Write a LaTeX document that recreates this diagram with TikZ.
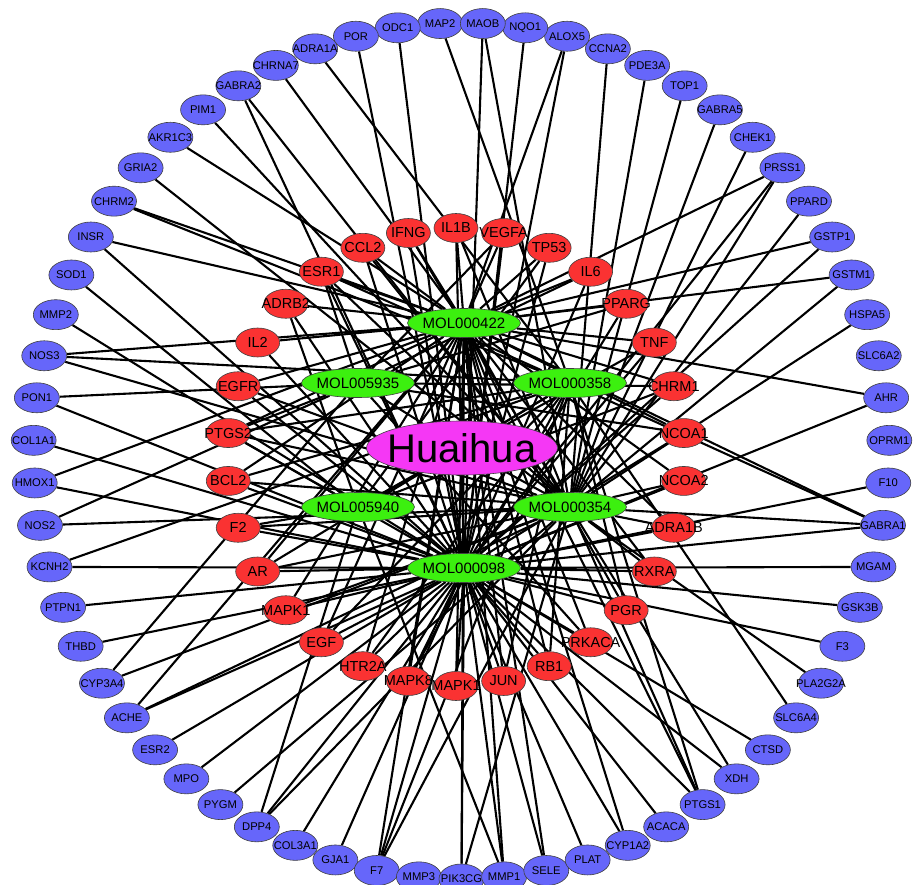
\documentclass[tikz,border=0pt]{standalone}
\usepackage{fontspec}
\setmainfont{Liberation Sans}
\usetikzlibrary{shapes.geometric,backgrounds,calc}
\definecolor{bluen}{RGB}{102,102,250}
\definecolor{redn}{RGB}{250,50,50}
\definecolor{greenn}{RGB}{60,240,15}
\definecolor{magn}{RGB}{245,55,245}
\begin{document}
\begin{tikzpicture}[x=1pt,y=-1pt,
  base/.style={ellipse,draw=black!75,line width=0.6pt,inner sep=0pt,text=black},
  bnode/.style={base,fill=bluen,minimum width=45pt,minimum height=30pt,font=\fontsize{11.2}{13}\selectfont},
  rnode/.style={base,fill=redn,minimum width=44pt,minimum height=29pt,font=\fontsize{14.5}{16}\selectfont},
  gnode/.style={base,fill=greenn,minimum width=113pt,minimum height=29pt,font=\fontsize{15}{17}\selectfont},
  hnode/.style={base,fill=magn,minimum width=191pt,minimum height=54pt,font=\fontsize{40}{44}\selectfont},
  link/.style={line width=2.1pt,black}]
\useasboundingbox (0,0) rectangle (914,885);
% outer ring
\foreach \n [count=\i from 0] in {MAP2,ODC1,POR,ADRA1A,CHRNA7,GABRA2,PIM1,AKR1C3,GRIA2,CHRM2,INSR,SOD1,MMP2,NOS3,PON1,COL1A1,HMOX1,NOS2,KCNH2,PTPN1,THBD,CYP3A4,ACHE,ESR2,MPO,PYGM,DPP4,COL3A1,GJA1,F7,MMP3,PIK3CG,MMP1,SELE,PLAT,CYP1A2,ACACA,PTGS1,XDH,CTSD,SLC6A4,PLA2G2A,F3,GSK3B,MGAM,GABRA1,F10,OPRM1,AHR,SLC6A2,HSPA5,GSTM1,GSTP1,PPARD,PRSS1,CHEK1,GABRA5,TOP1,PDE3A,CCNA2,ALOX5,NQO1,MAOB}{
  \pgfmathsetmacro\ang{-(92.857+\i*5.7143)}
  \node[bnode] (\n) at ($(461.5,451)+(\ang:428)$) {\makebox[0pt]{\n}};
}
% inner ring
\foreach \n/\l [count=\i from 0] in {IL1B/IL1B,IFNG/IFNG,CCL2/CCL2,ESR1/ESR1,ADRB2/ADRB2,IL2/IL2,EGFR/EGFR,PTGS2/PTGS2,BCL2/BCL2,F2/F2,AR/AR,MAPKa/MAPK1,EGF/EGF,HTR2A/HTR2A,MAPK8/MAPK8,MAPKb/MAPK1,JUN/JUN,RB1/RB1,PRKACA/PRKACA,PGR/PGR,RXRA/RXRA,ADRA1B/ADRA1B,NCOA2/NCOA2,NCOA1/NCOA1,CHRM1/CHRM1,TNF/TNF,PPARG/PPARG,IL6/IL6,TP53/TP53,VEGFA/VEGFA}{
  \pgfmathsetmacro\ang{-(90+\i*12)}
  \node[rnode] (\n) at ($(456,457)+(\ang:229)$) {\makebox[0pt]{\l}};
}
% compounds
\node[gnode] (m422) at (464,323) {\makebox[0pt]{MOL000422}};
\node[gnode] (m5935) at (358,383) {\makebox[0pt]{MOL005935}};
\node[gnode] (m358) at (570,383) {\makebox[0pt]{MOL000358}};
\node[gnode] (m5940) at (358,507) {\makebox[0pt]{MOL005940}};
\node[gnode] (m354) at (570,507) {\makebox[0pt]{MOL000354}};
\node[gnode] (m098) at (464,568) {\makebox[0pt]{MOL000098}};
\node[hnode] (Huaihua) at (462,448) {\makebox[0pt]{Huaihua}};
\begin{scope}[on background layer]
\foreach \t in {m422,m5935,m358,m5940,m354,m098} \draw[link] (Huaihua) -- (\t);
\foreach \s/\t in {MAP2/m358,ODC1/m098,POR/m098,ADRA1A/m358,CHRNA7/m422,GABRA2/m354,GABRA2/m098,PIM1/m354,AKR1C3/m422,GRIA2/m354,CHRM2/m422,CHRM2/m358,INSR/m422,INSR/m098,SOD1/m5940,MAOB/m098,MAOB/m354,NQO1/m098,ALOX5/m422,ALOX5/m098,CCNA2/m354,PDE3A/m354,TOP1/m354,GABRA5/m354,CHEK1/m354,PRSS1/m422,PRSS1/m098,PRSS1/m354,PPARD/m354,GSTP1/m422,GSTP1/m098,GSTM1/m422,GSTM1/m354,MMP2/m098,NOS3/m422,NOS3/m358,NOS3/m354,PON1/m5935,PON1/m098,COL1A1/m098,HMOX1/m422,HMOX1/m098,NOS2/m5935,NOS2/m354,KCNH2/m098,KCNH2/m358,HSPA5/m354,AHR/m422,AHR/m098,F10/m098,GABRA1/m422,GABRA1/m358,GABRA1/m354,GABRA1/m098,MGAM/m098,GSK3B/m098,F3/m098,PLA2G2A/m354,SLC6A4/m358,CTSD/m098,XDH/m354,XDH/m098,PTGS1/m358,PTGS1/m354,PTGS1/m422,PTGS1/m098,ACACA/m098,CYP1A2/m422,CYP1A2/m098,PLAT/m098,SELE/m098,SELE/m422,MMP1/m098,MMP1/m422,MMP1/m5940,PIK3CG/m098,PIK3CG/m354,PIK3CG/m422,F7/m098,F7/m354,F7/m422,F7/m358,GJA1/m098,COL3A1/m098,DPP4/m5940,DPP4/m098,DPP4/m354,PYGM/m354,MPO/m098,ESR2/m098,ACHE/m098,ACHE/m354,ACHE/m422,CYP3A4/m354,CYP3A4/m5935,THBD/m098,PTPN1/m098}
  \draw[link] (\s) -- (\t);
\foreach \s/\t in {IL1B/m098,IL1B/m422,IL1B/m354,IFNG/m098,IFNG/m422,IFNG/m354,CCL2/m098,CCL2/m422,CCL2/m354,ESR1/m098,ESR1/m422,ESR1/m358,ESR1/m354,ESR1/m5935,ADRB2/m422,ADRB2/m5940,ADRB2/m098,IL2/m098,IL2/m422,EGFR/m098,EGFR/m422,EGFR/m354,PTGS2/m098,PTGS2/m422,PTGS2/m358,PTGS2/m354,PTGS2/m5935,PTGS2/m5940,BCL2/m098,BCL2/m422,BCL2/m354,BCL2/m358,F2/m098,F2/m5940,F2/m354,AR/m098,AR/m422,AR/m358,AR/m354,MAPKa/m098,MAPKa/m422,MAPKa/m354,EGF/m098,EGF/m422,EGF/m358,HTR2A/m098,HTR2A/m422,HTR2A/m358,MAPK8/m098,MAPK8/m422,MAPK8/m358,MAPKb/m098,MAPKb/m422,JUN/m098,JUN/m422,JUN/m358,RB1/m098,RB1/m422,RB1/m358,PRKACA/m098,PRKACA/m422,PRKACA/m5935,PGR/m098,PGR/m422,PGR/m358,RXRA/m098,RXRA/m422,RXRA/m354,ADRA1B/m098,ADRA1B/m422,ADRA1B/m354,NCOA2/m098,NCOA2/m422,NCOA2/m354,NCOA1/m098,NCOA1/m422,NCOA1/m5935,CHRM1/m098,CHRM1/m422,CHRM1/m5935,CHRM1/m5940,TNF/m098,TNF/m422,TNF/m5940,PPARG/m098,PPARG/m422,PPARG/m5935,IL6/m098,IL6/m422,IL6/m5935,TP53/m098,TP53/m422,TP53/m5940,VEGFA/m098,VEGFA/m422,VEGFA/m5935}
  \draw[link] (\s) -- (\t);
\end{scope}
\end{tikzpicture}
\end{document}
